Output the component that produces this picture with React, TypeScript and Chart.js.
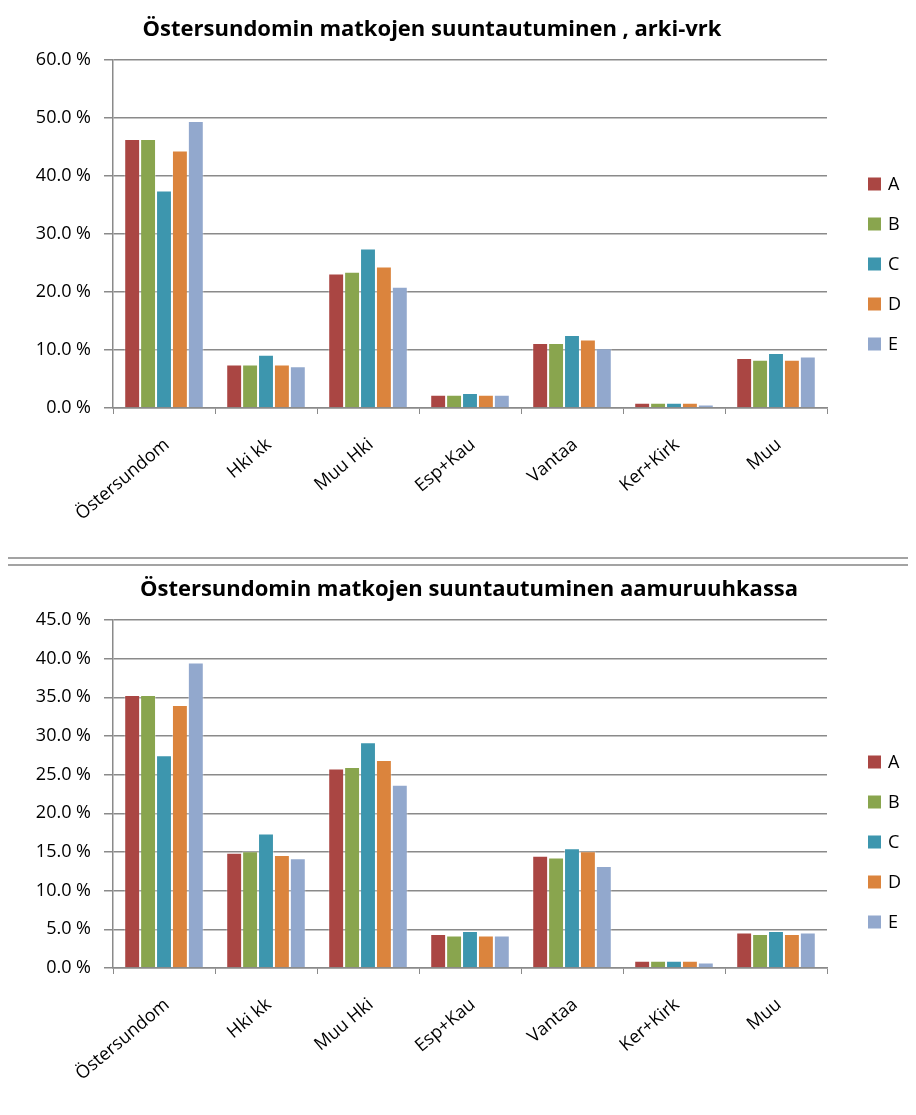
import React, { useEffect, useRef } from "react";
import { Chart, registerables } from "chart.js";

Chart.register(...registerables);

const categories = ["Östersundom", "Hki kk", "Muu Hki", "Esp+Kau", "Vantaa", "Ker+Kirk", "Muu"];
const seriesNames = ["A", "B", "C", "D", "E"];
const seriesColors = ["#AA4643", "#89A54E", "#3D96AE", "#DB843D", "#92A8CD"];

const title1 = "Östersundomin matkojen suuntautuminen , arki-vrk";
const day_A = [46.4, 7.5, 23.2, 2.3, 11.2, 0.9, 8.6];
const day_B = [46.4, 7.5, 23.5, 2.3, 11.2, 0.9, 8.3];
const day_C = [37.5, 9.2, 27.5, 2.6, 12.6, 0.9, 9.5];
const day_D = [44.4, 7.5, 24.4, 2.3, 11.8, 0.9, 8.3];
const day_E = [49.5, 7.2, 20.9, 2.3, 10.3, 0.6, 8.9];
const dayMax = 60;
const dayStep = 10;

const title2 = "Östersundomin matkojen suuntautuminen aamuruuhkassa";
const am_A = [35.3, 14.9, 25.8, 4.4, 14.5, 0.95, 4.6];
const am_B = [35.3, 15.1, 26.0, 4.2, 14.3, 0.95, 4.4];
const am_C = [27.5, 17.4, 29.2, 4.8, 15.5, 0.95, 4.8];
const am_D = [34.0, 14.6, 26.9, 4.2, 15.1, 0.95, 4.4];
const am_E = [39.5, 14.2, 23.7, 4.2, 13.2, 0.7, 4.6];
const amMax = 45;
const amStep = 5;

const FONT = "'Open Sans', 'Noto Sans', sans-serif";

type Cfg = {
  title: string;
  titleX: number;
  series: number[][];
  max: number;
  step: number;
  legendTop: number;
  height: number;
};

function BarChart({ cfg }: { cfg: Cfg }) {
  const ref = useRef<HTMLCanvasElement | null>(null);
  useEffect(() => {
    if (!ref.current) return;
    const overlay = {
      id: "overlay",
      afterDraw(chart: any) {
        const ctx = chart.ctx;
        ctx.save();
        ctx.fillStyle = "#000";
        ctx.font = `bold 22px ${FONT}`;
        ctx.textAlign = "center";
        ctx.textBaseline = "middle";
        ctx.fillText(cfg.title, cfg.titleX, 30);
        ctx.font = `18px ${FONT}`;
        ctx.textAlign = "left";
        chart.data.datasets.forEach((ds: any, i: number) => {
          const y = cfg.legendTop + i * 40;
          ctx.fillStyle = ds.backgroundColor;
          ctx.fillRect(868, y - 6.5, 13, 13);
          ctx.fillStyle = "#000";
          ctx.fillText(ds.label, 888, y + 1);
        });
        ctx.restore();
      },
    };
    const chart = new Chart(ref.current, {
      type: "bar",
      data: {
        labels: categories,
        datasets: cfg.series.map((d, i) => ({
          label: seriesNames[i],
          data: d,
          backgroundColor: seriesColors[i],
          borderColor: "rgba(255,255,255,0.35)",
          borderWidth: 1,
          categoryPercentage: 0.78,
          barPercentage: 1,
        })),
      },
      options: {
        animation: false,
        responsive: false,
        maintainAspectRatio: false,
        layout: { padding: { left: 13, right: 89, top: 60, bottom: cfg.height - 408 - 120 } },
        plugins: {
          legend: { display: false },
          title: { display: false },
          tooltip: { enabled: false },
        },
        scales: {
          x: {
            offset: true,
            grid: {
              offset: true,
              drawOnChartArea: false,
              drawTicks: true,
              tickLength: 6,
              color: "#8a8a8a",
              lineWidth: 1,
            },
            border: { color: "#8a8a8a", width: 1.5 },
            ticks: {
              maxRotation: 40,
              minRotation: 40,
              color: "#000",
              font: { family: FONT, size: 18 },
              padding: 20,
              labelOffset: 3,
              autoSkip: false,
            },
            afterFit: (s: any) => {
              s.height = 120;
            },
          },
          y: {
            min: 0,
            max: cfg.max,
            grid: { color: "#8a8a8a", lineWidth: 1.5, tickLength: 9 },
            border: { color: "#8a8a8a", width: 1.5 },
            ticks: {
              stepSize: cfg.step,
              color: "#000",
              font: { family: FONT, size: 18 },
              padding: 13,
              callback: (v: any) => Number(v).toFixed(1) + " %",
            },
            afterFit: (s: any) => {
              s.width = 100;
            },
          },
        },
      },
      plugins: [overlay],
    });
    return () => chart.destroy();
  }, [cfg]);
  return <canvas ref={ref} width={916} height={cfg.height} style={{ display: "block", width: 916, height: cfg.height }} />;
}

const cfg1: Cfg = {
  title: title1,
  titleX: 432,
  series: [day_A, day_B, day_C, day_D, day_E],
  max: dayMax,
  step: dayStep,
  legendTop: 184,
  height: 560,
};
const cfg2: Cfg = {
  title: title2,
  titleX: 469,
  series: [am_A, am_B, am_C, am_D, am_E],
  max: amMax,
  step: amStep,
  legendTop: 202,
  height: 555,
};

export default function App() {
  return (
    <div style={{ position: "relative", width: 916, height: 1115, margin: -8, overflow: "hidden", background: "#fff" }}>
      <div style={{ position: "absolute", left: 0, top: 0 }}>
        <BarChart cfg={cfg1} />
      </div>
      <div style={{ position: "absolute", left: 0, top: 560 }}>
        <BarChart cfg={cfg2} />
      </div>
      <div style={{ position: "absolute", left: 6, top: 4, width: 930, height: 555, border: "2px solid #a3a3a3", boxSizing: "border-box", pointerEvents: "none" }} />
      <div style={{ position: "absolute", left: 6, top: 564, width: 930, height: 600, border: "2px solid #a3a3a3", boxSizing: "border-box", pointerEvents: "none" }} />
    </div>
  );
}
